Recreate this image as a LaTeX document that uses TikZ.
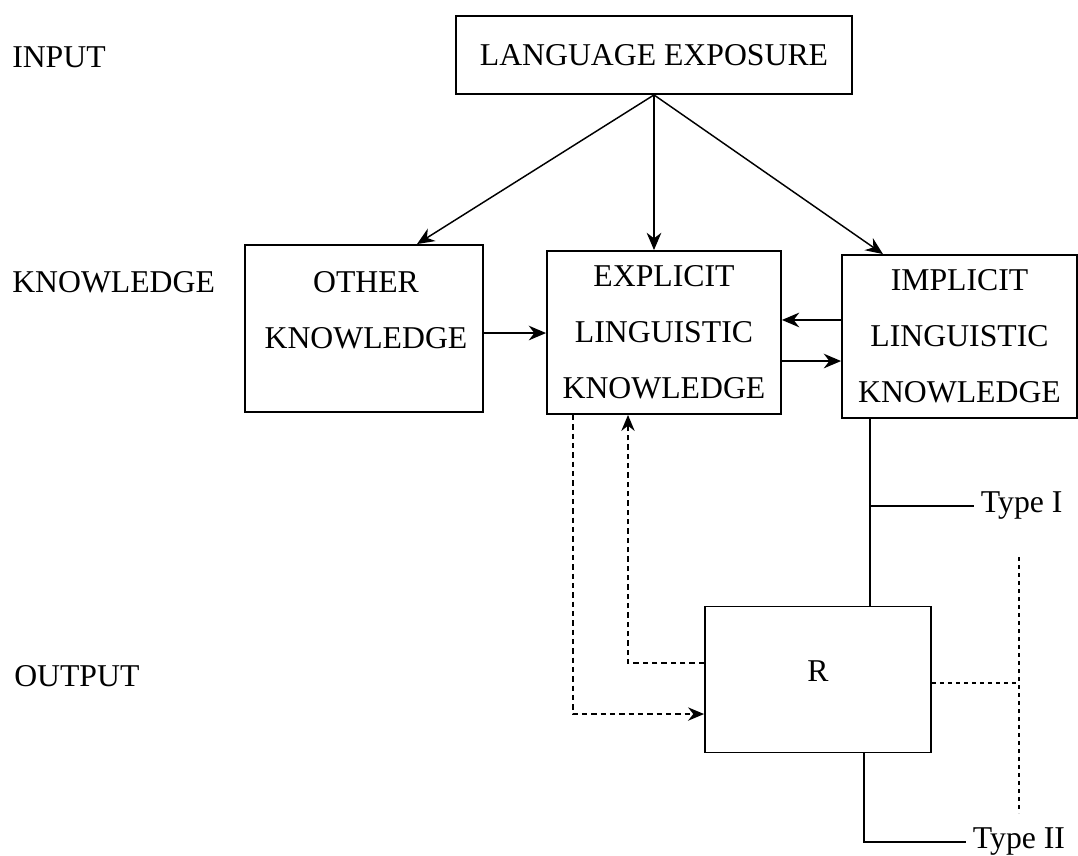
\documentclass[tikz,border=0pt]{standalone}
\usepackage{fontspec}
\setmainfont{Liberation Serif}
\usetikzlibrary{arrows.meta,calc}
\begin{document}
\begin{tikzpicture}[x=0.75pt,y=-0.75pt,
  every node/.style={font=\fontsize{23.8}{42}\selectfont, inner sep=0pt},
  box/.style={draw, line width=1.4pt, rectangle, align=center},
  conn/.style={line width=1.1pt},
  arr/.style={conn, -{Stealth[length=13pt,width=11pt]}},
  dsh/.style={line width=1.1pt, dash pattern=on 4pt off 3pt},
  dshar/.style={dsh, -{Stealth[length=12pt,width=10pt]}},
  lbl/.style={anchor=west},
  typelbl/.style={anchor=west, inner xsep=5pt}]
\useasboundingbox (0,0) rectangle (1078,856);
\fill[white] (0,0) rectangle (1078,856);

% row labels
\node[lbl] (input) at (12,57) {INPUT};
\node[lbl] (knowl) at (12,282) {KNOWLEDGE};
\node[lbl] (output) at (14,676) {OUTPUT};

% boxes
\node[box, minimum width=297pt, minimum height=58.5pt] (lang) at (654,55) {LANGUAGE EXPOSURE};
\node[box, minimum width=178.5pt, minimum height=125.25pt] (other) at (364,328.5) {};
\node (othertxt) at (366,310) [align=center] {OTHER\\KNOWLEDGE};
\node[box, minimum width=175.5pt, minimum height=122.25pt] (explicit) at (664,332.5) {EXPLICIT\\LINGUISTIC\\KNOWLEDGE};
\node[box, minimum width=176.25pt, minimum height=122.25pt] (implicit) at (959.5,336.5) {IMPLICIT\\LINGUISTIC\\KNOWLEDGE};
\node[box, minimum width=169.5pt, minimum height=109.5pt] (R) at (818,679.5) {\raisebox{12pt}{R}};

\node[typelbl] (type1) at (974,506) {Type I};
\node[typelbl] (type2) at (966,842) {Type II};

% input arrows
\coordinate (oa) at ([xshift=39.75pt]other.north);
\coordinate (ia) at ([xshift=-57.4pt]implicit.north);
\draw[arr] (lang.south) -- (oa);
\draw[arr] (lang.south) -- (lang.south |- explicit.north);
\draw[arr] (lang.south) -- (ia);

% knowledge arrows
\coordinate (oe) at ([yshift=-3.4pt]other.east);
\coordinate (iw) at ([yshift=12.4pt]implicit.west);
\coordinate (ee) at ([yshift=-21.4pt]explicit.east);
\draw[arr] (oe) -- (explicit.west |- oe);
\draw[arr] (iw) -- (explicit.east |- iw);
\draw[arr] (ee) -- (implicit.west |- ee);

% implicit to R, Type I
\coordinate (ib) at ([xshift=-67.1pt]implicit.south);
\draw[conn] (ib) -- (ib |- R.north);
\coordinate (t1) at (ib |- type1.west);
\draw[conn] (t1) -- (type1.west);

% R to Type II
\coordinate (rs) at ([xshift=34.5pt]R.south);
\draw[conn] (rs) |- (type2.west);

% dashed feedback loops
\coordinate (es1) at ([xshift=-68.25pt]explicit.south);
\coordinate (rw1) at ([yshift=-25.9pt]R.west);
\coordinate (es2) at ([xshift=-27pt]explicit.south);
\coordinate (rw2) at ([yshift=12.4pt]R.west);
\draw[dshar] (es1) |- (rw1);
\draw[dshar] (rw2) -| (es2);

% right dotted
\coordinate (dtop) at (1019,557);
\coordinate (dbot) at (1019,813);
\coordinate (re) at ([yshift=-2.6pt]R.east);
\draw[line width=1.1pt, dash pattern=on 3pt off 3pt] (dtop) -- (dbot);
\draw[line width=1.1pt, dash pattern=on 3pt off 3pt] (re) -- (dtop |- re);
\end{tikzpicture}
\end{document}
